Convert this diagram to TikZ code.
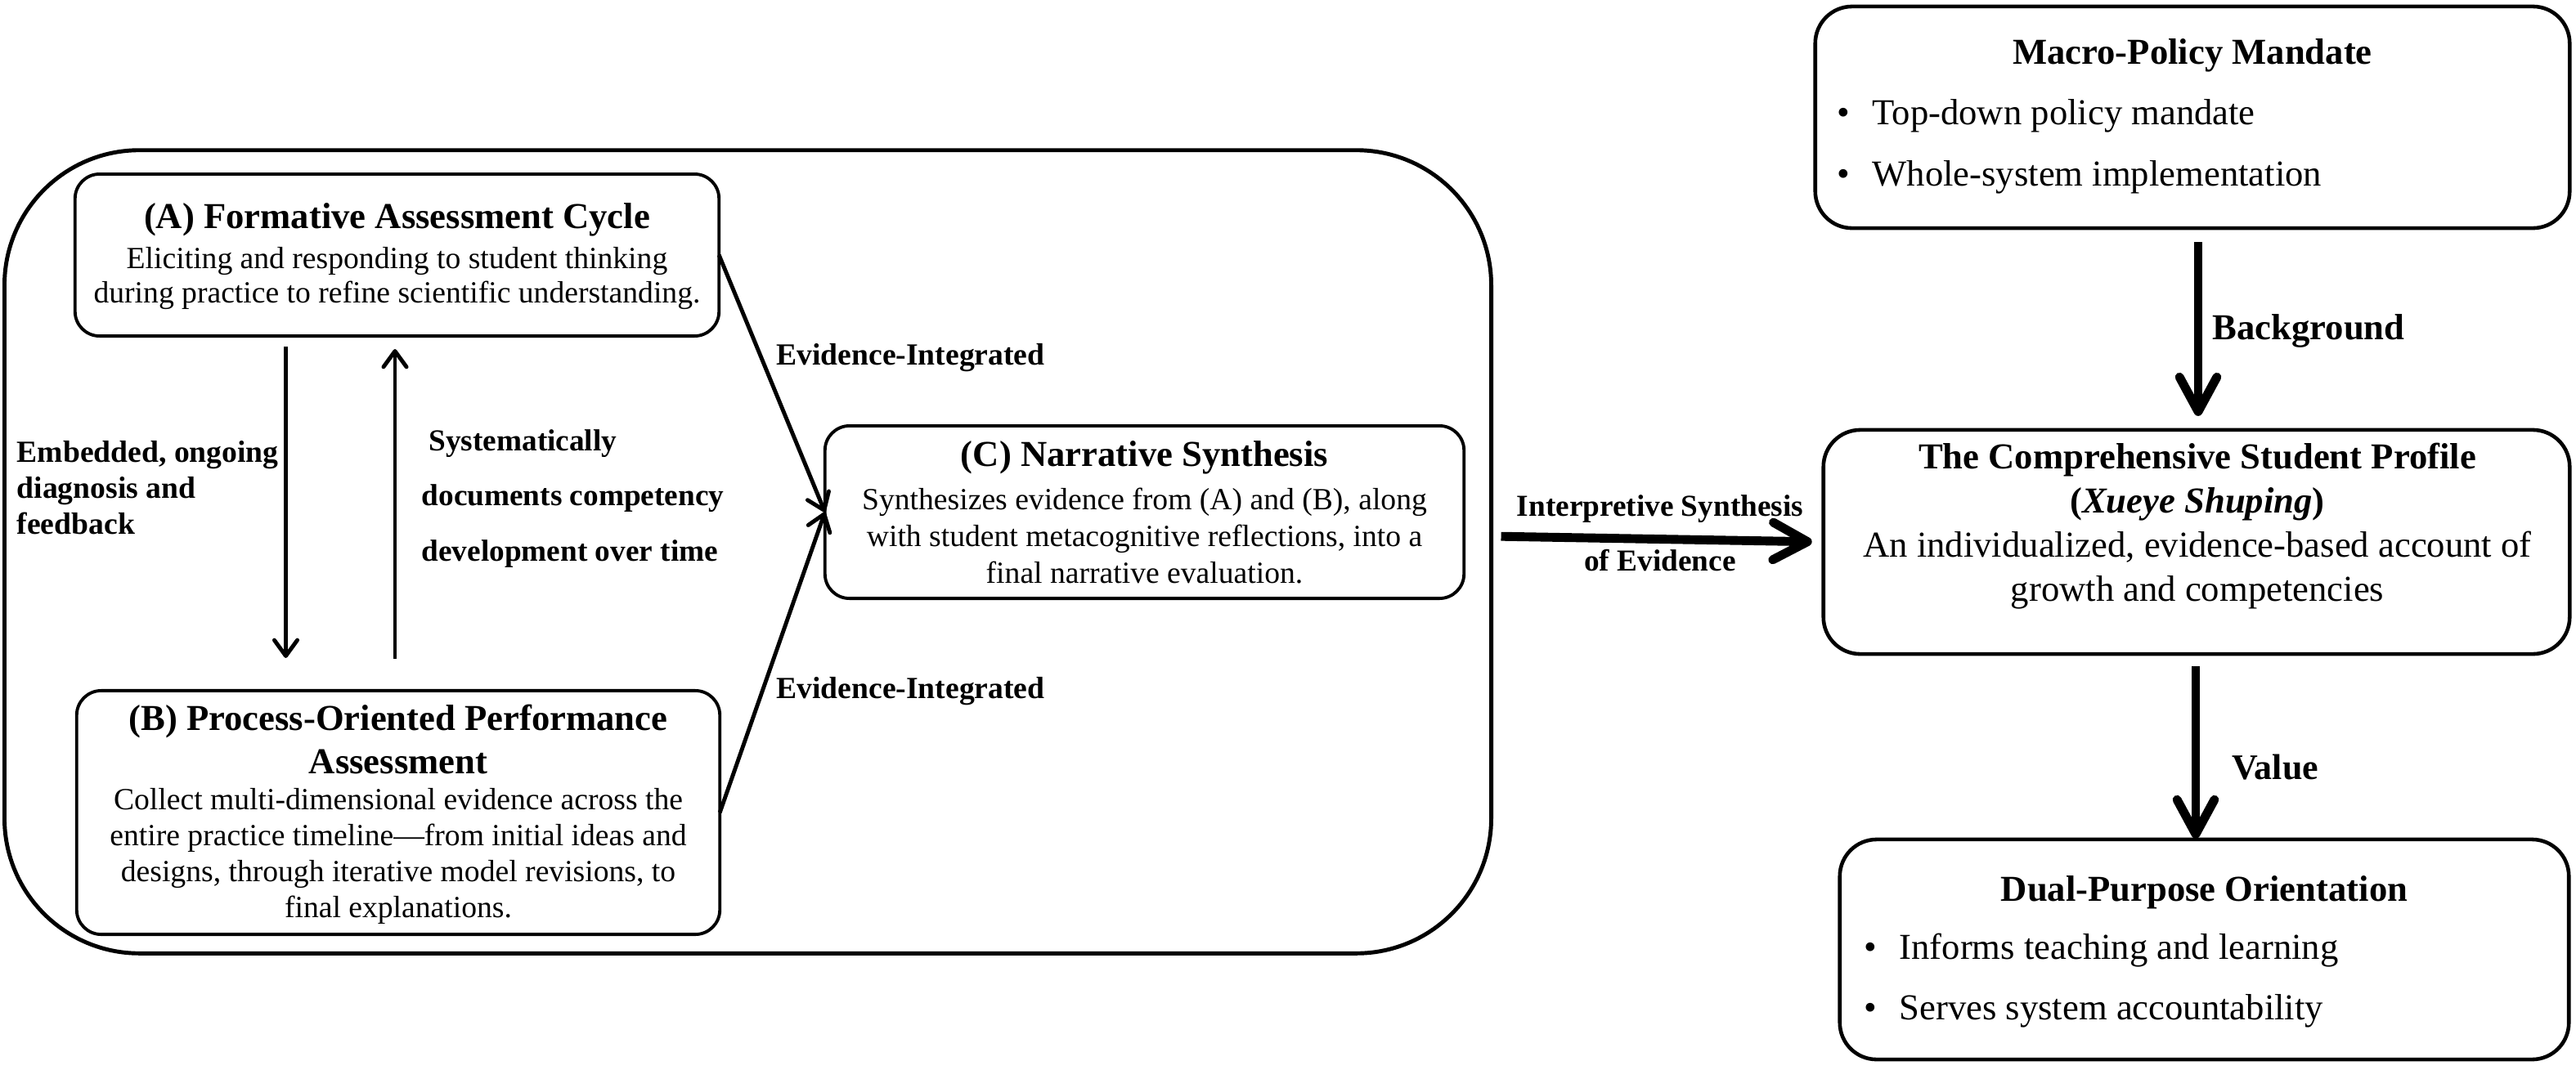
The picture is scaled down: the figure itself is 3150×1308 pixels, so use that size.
\documentclass[tikz,border=0pt]{standalone}
\usepackage{fontspec}
\setmainfont{Liberation Serif}
\usetikzlibrary{arrows.meta,calc}
\newcommand\mybullet{\makebox[12.2pt][l]{\textbullet}}
\begin{document}
\tikzset{
 box/.style={draw, line width=1.1pt, rounded corners=0.3cm, inner sep=0pt, outer sep=0pt},
 rbox/.style={draw, line width=1.3pt, rounded corners=0.45cm, inner sep=0pt, outer sep=0pt},
 ttl/.style={font=\fontsize{12.7}{15}\selectfont\bfseries, align=center, inner sep=0pt},
 bodytext/.style={align=center, inner sep=0pt},
 lbl/.style={font=\fontsize{10.7}{12.5}\selectfont\bfseries, inner sep=0pt},
 thinarr/.style={line width=1.4pt, -{Straight Barb[length=5.5pt,width=8pt,round]}},
 thickarr/.style={line width=3.1pt, -{Straight Barb[length=12pt,width=13pt,round]}},
}
\begin{tikzpicture}[x=0.01cm,y=-0.01cm]
\useasboundingbox (0,0) rectangle (3150,1308);
% outer frame
\node[draw, line width=1.4pt, rounded corners=1.65cm, minimum width=18.17cm, minimum height=9.82cm, inner sep=0pt, outer sep=0pt] (outer) at (914.5,675) {};
% box A
\node[box, minimum width=7.87cm, minimum height=1.98cm] (A) at (485.5,312) {};
\node[ttl] (At) at (485.5,269) {(A) Formative Assessment Cycle};
\node[bodytext, font=\fontsize{10.7}{11.7}\selectfont] (Ab) at (485.5,340.5) {Eliciting and responding to student thinking\\during practice to refine scientific understanding.};
% box B
\node[box, minimum width=7.86cm, minimum height=2.98cm] (B) at (487,994) {};
\node[ttl] (Bt) at (487,904.5) {(B) Process-Oriented Performance\\Assessment};
\node[bodytext, font=\fontsize{10.7}{12.5}\selectfont] (Bb) at (487,1047.5) {Collect multi-dimensional evidence across the\\entire practice timeline—from initial ideas and\\designs, through iterative model revisions, to\\final explanations.};
% box C
\node[box, minimum width=7.81cm, minimum height=2.11cm] (C) at (1399.5,626.5) {};
\node[ttl] (Ct) at (1399.5,560) {(C) Narrative Synthesis};
\node[bodytext, font=\fontsize{10.7}{12.9}\selectfont] (Cb) at (1399.5,655.5) {Synthesizes evidence from (A) and (B), along\\with student metacognitive reflections, into a\\final narrative evaluation.};
% right column
\node[rbox, minimum width=9.22cm, minimum height=2.71cm] (M) at (2681,143.5) {};
\node[ttl] (Mt) at (2681,68) {Macro-Policy Mandate};
\node[bodytext, align=left, anchor=west, font=\fontsize{12.7}{21.3}\selectfont] (Ml) at (2246,179) {\mybullet Top-down policy mandate\\\mybullet Whole-system implementation};
\node[rbox, minimum width=9.12cm, minimum height=2.74cm] (P) at (2686,663) {};
\node[bodytext, font=\fontsize{12.7}{15.4}\selectfont] (Pt) at (2687,643.5) {\textbf{The Comprehensive Student Profile}\\\textbf{(\textit{Xueye Shuping})}\\An individualized, evidence-based account of\\growth and competencies};
\node[rbox, minimum width=8.91cm, minimum height=2.69cm] (D) at (2695.5,1161.5) {};
\node[ttl] (Dt) at (2695.5,1092) {Dual-Purpose Orientation};
\node[bodytext, align=left, anchor=west, font=\fontsize{12.7}{21}\selectfont] (Dl) at (2279,1199.5) {\mybullet Informs teaching and learning\\\mybullet Serves system accountability};
% connectors
\coordinate (dnx) at (349.5,0);
\coordinate (upx) at (483,0);
\coordinate (bgx) at (2688,0);
\coordinate (vx) at (2685,0);
\draw[thinarr, shorten <=0.13cm, shorten >=0.4cm] (A.south -| dnx) -- (B.north -| dnx);
\draw[thinarr, shorten <=0.39cm, shorten >=0.16cm] (B.north -| upx) -- (A.south -| upx);
\draw[thinarr] (A.east) -- (C.west);
\draw[thinarr] (B.east) -- (C.west);
\draw[thickarr, shorten <=0.12cm, shorten >=0.14cm] ([yshift=0.19cm]outer.east) -- (P.west);
\draw[thickarr, shorten <=0.17cm, shorten >=0.17cm] (M.south -| bgx) -- (P.north -| bgx);
\draw[thickarr, shorten <=0.15cm, shorten >=0.01cm] (P.south -| vx) -- (D.north -| vx);
% labels
\node[lbl, anchor=west, align=left] (l1) at (20,597) {Embedded, ongoing\\diagnosis and\\feedback};
\node[lbl, anchor=west, align=left, font=\fontsize{10.6}{19.3}\selectfont\bfseries] (l2) at (515,610) {\hspace*{2.5pt}Systematically\\documents competency\\development over time};
\node[lbl] (l3) at (1113.5,438) {Evidence-Integrated};
\node[lbl] (l4) at (1113.5,846) {Evidence-Integrated};
\node[lbl, align=center, font=\fontsize{10.6}{19}\selectfont\bfseries] (l5) at (2030,652) {Interpretive Synthesis\\of Evidence};
\node[lbl, font=\fontsize{12.7}{15}\selectfont\bfseries] (l6) at (2823,405) {Background};
\node[lbl, font=\fontsize{12.5}{15}\selectfont\bfseries] (l7) at (2782,939) {Value};
\end{tikzpicture}
\end{document}
